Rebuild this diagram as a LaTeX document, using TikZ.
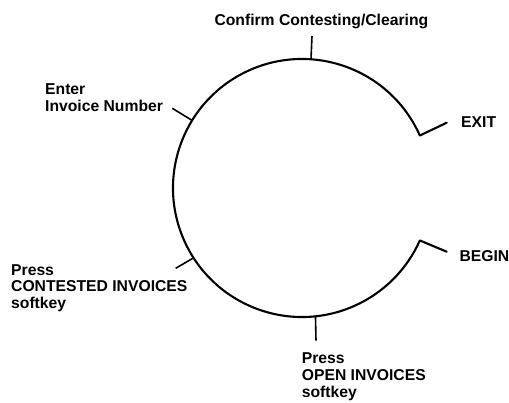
\documentclass[tikz,border=0pt]{standalone}
\usepackage{fontspec}
\setmainfont{Liberation Sans}
\usetikzlibrary{calc}
\begin{document}
\begin{tikzpicture}[x=1pt,y=1pt,
  lbl/.style={inner sep=0pt, align=left, font=\bfseries\fontsize{15.7}{16.9}\selectfont},
  ring/.style={line width=2.1pt},
  tick/.style={line width=1.6pt},
  hook/.style={line width=2.1pt, line cap=round}]
\useasboundingbox (0,0) rectangle (509,402);
\coordinate (c) at (302,214);
% circle (open on the right)
\coordinate (exitend) at ($(c)+(24:129)$);
\coordinate (beginend) at ($(c)+(336:129)$);
\draw[ring] (exitend) arc[start angle=24, end angle=336, radius=129pt];
% labels
\node[lbl, anchor=base west] (confirm) at (214.3,376) {Confirm Contesting/Clearing};
\node[lbl, anchor=north west] (enter) at (45,318.7) {Enter\\Invoice Number};
\node[lbl, anchor=base west] (exit) at (461,274.3) {EXIT};
\node[lbl, anchor=base west] (begin) at (459.3,140.3) {BEGIN};
\node[lbl, anchor=north west] (contested) at (11,138) {Press\\CONTESTED INVOICES\\softkey};
\node[lbl, anchor=north west] (openinv) at (301.7,49.5) {Press\\OPEN INVOICES\\softkey};
% ticks
\coordinate (tconfirm) at ($(c)+(86:129)$);
\coordinate (econfirm) at (312,366);
\coordinate (tenter) at ($(c)+(148.4:129)$);
\coordinate (eenter) at (172.3,293.7);
\coordinate (tcont) at ($(c)+(212.8:129)$);
\coordinate (econt) at (175.7,133.7);
\coordinate (topen) at ($(c)+(276:129)$);
\coordinate (eopen) at (316,61.3);
\coordinate (eexit) at (446.7,279.3);
\coordinate (ebegin) at (446.7,150.3);
\draw[tick] (tconfirm) -- (econfirm);
\draw[tick] (tenter) -- (eenter);
\draw[tick] (tcont) -- (econt);
\draw[tick] (topen) -- (eopen);
\draw[hook] (exitend) -- (eexit);
\draw[hook] (beginend) -- (ebegin);
\end{tikzpicture}
\end{document}
